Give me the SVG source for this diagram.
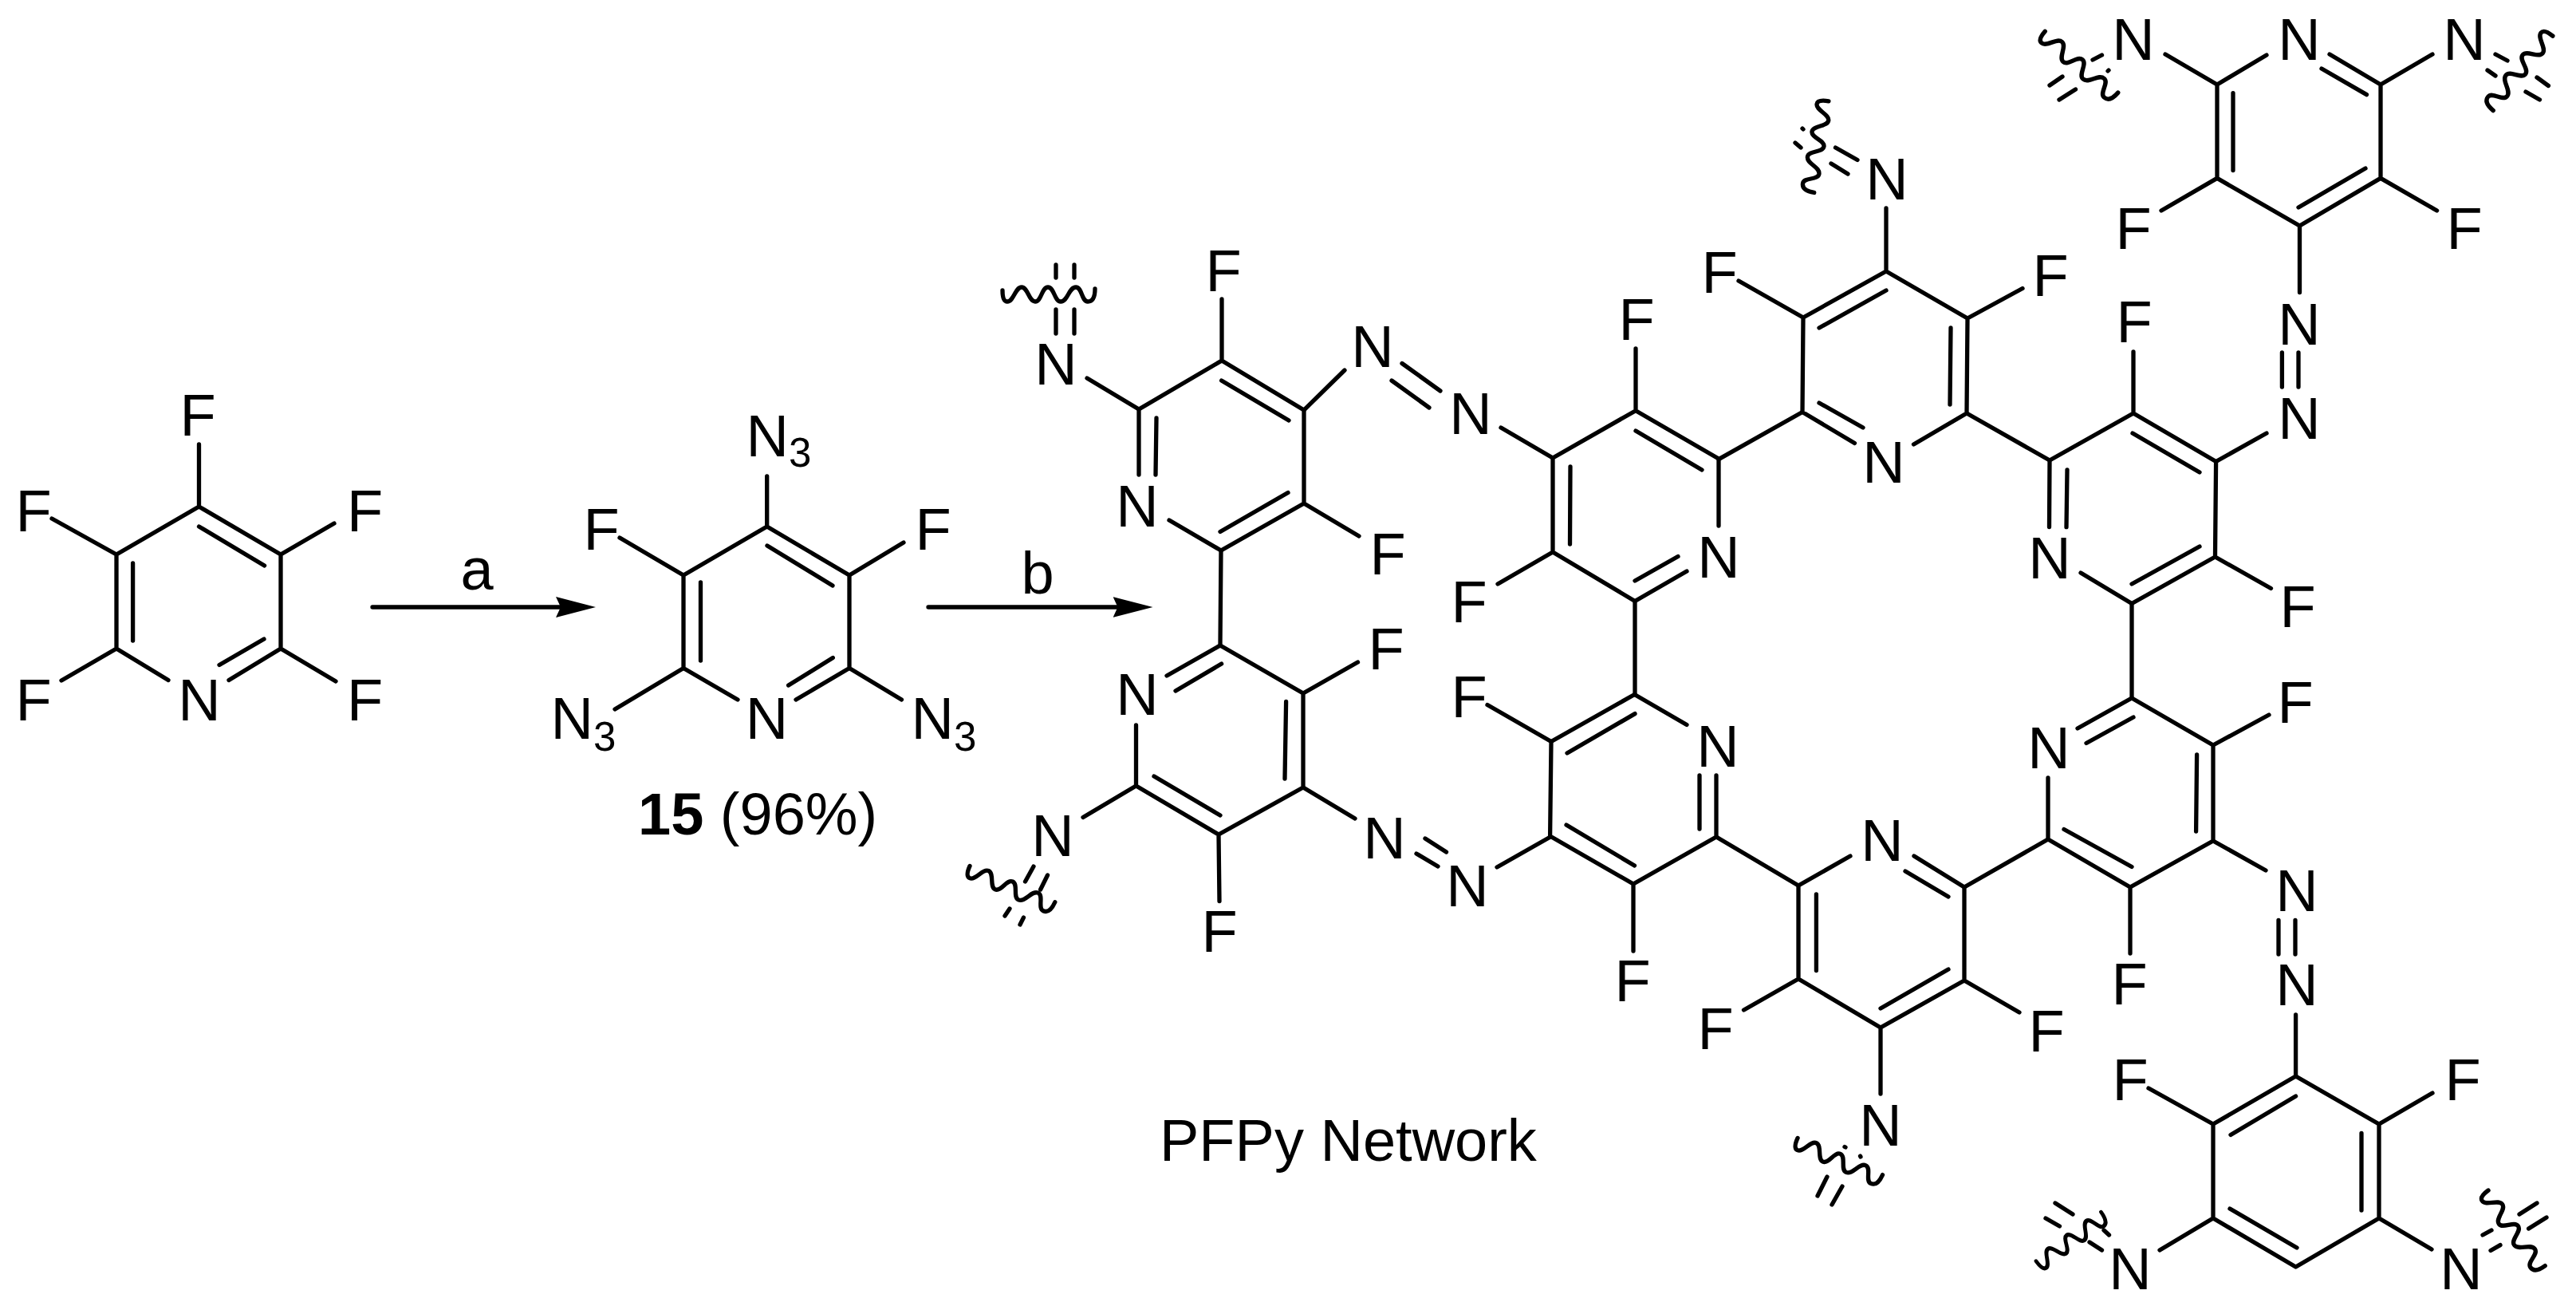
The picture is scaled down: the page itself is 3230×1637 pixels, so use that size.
<svg xmlns="http://www.w3.org/2000/svg" width="3230" height="1637" viewBox="0 0 3230 1637">
<style>
.b{fill:none;stroke:#000;stroke-width:5.3;stroke-linecap:round;stroke-linejoin:round}
.t{font-family:"Liberation Sans",Arial,sans-serif;font-size:74px;fill:#000;text-anchor:middle}
.s{font-family:"Liberation Sans",Arial,sans-serif;font-size:74px;fill:#000}
.u{font-size:51px}
.h{font-weight:bold}
</style>
<defs>
<path id="wave" class="b" d="M0,-5C0,5 2,9 6,9C14,9 16,-9 24,-9C32,-9 33,9 41,9C49,9 49,-9 57,-9C65,-9 65,9 73,9C82,9 83,-9 92,-9C100,-9 99,9 107,9C113,9 116,3 116,-7"/>
<marker id="head" markerUnits="userSpaceOnUse" markerWidth="50" markerHeight="26" viewBox="0 0 50 26" refX="6" refY="13" orient="auto"><path d="M0,0L50,13L0,26L6,13Z" fill="#000"/></marker>
</defs>
<rect width="3230" height="1637" fill="#fff"/>

<g id="reactant">
<path class="b" d="M249.5,557V635L146,695V813L211,852.5M249.5,635L352,695V813L287,852.5M249.5,660L331.6,709M166.6,706V803M275,833.5L331,801M146,695L65,650M352,695L419,656M146,813L77,853M352,813L421,854"/>
<text class="t" x="248" y="546">F</text><text class="t" x="42" y="665.5">F</text><text class="t" x="457.5" y="665.5">F</text>
<text class="t" x="42" y="903">F</text><text class="t" x="457.5" y="903">F</text><text class="t" x="250" y="903">N</text>
</g>

<g id="arrow-a"><path class="b" d="M467,761H703" marker-end="url(#head)"/><text class="t" x="598" y="738.5">a</text></g>

<g id="compound-15">
<path class="b" d="M961.7,597V660L857,721V837.5L925,877M961.7,660L1065,721V837.5L998,877M962,684L1044,734M878.5,730V828M988.6,859L1044.3,824.5M857,721L777,674M1065,721L1133,680M857,837.5L771,889M1065,837.5L1130.5,877"/>
<text class="t" x="754" y="689">F</text><text class="t" x="1170" y="689">F</text><text class="t" x="961.5" y="926">N</text>
<text class="s" x="935.5" y="572">N<tspan class="u" dy="13">3</tspan></text>
<text class="s" x="690.5" y="926">N<tspan class="u" dy="15">3</tspan></text>
<text class="s" x="1142.5" y="926">N<tspan class="u" dy="15">3</tspan></text>
<text class="s" x="800" y="1046"><tspan class="h">15</tspan> (96%)</text>
</g>

<g id="arrow-b"><path class="b" d="M1164,761H1401.5" marker-end="url(#head)"/><text class="t" x="1301" y="744">b</text></g>

<g id="ring-a">
<path class="b" d="M1532,375V452L1428,513V595M1532,452L1635,514V631L1531,690L1466,652M1450,524L1449,595M1531.6,477L1616,527M1530,666.5L1615,617.5M1635,631L1704,672"/>
<text class="t" x="1534" y="365">F</text><text class="t" x="1426" y="660">N</text><text class="t" x="1740" y="720">F</text>
</g>
<g id="ring-b">
<path class="b" d="M1424.5,909V985L1528,1046L1634,987V869L1530,809L1463,847M1531.6,832L1474,866M1612.6,879.5L1611,976M1447,973L1530,1022M1634,869L1702.5,830M1528,1046L1529,1129.5"/>
<text class="t" x="1426" y="896">N</text><text class="t" x="1738" y="839">F</text><text class="t" x="1529" y="1193">F</text>
</g>
<g id="ring-c">
<path class="b" d="M2051,437V514.7L1947,574V692L2050,753.5L2115,716M2051,514.7L2155,575V659M2051,540L2134,589M1969,585L1968.5,682M2050,728L2104,697.5M1947,692L1878,732"/>
<text class="t" x="2052" y="426">F</text><text class="t" x="2155" y="724">N</text><text class="t" x="1842" y="780">F</text>
</g>
<g id="ring-d">
<path class="b" d="M2365,261V340L2261,398L2260,516.5L2325.5,555.5M2365,340L2467,399L2466,518L2399.5,557M2365,364L2281,411M2446,411L2445,507M2281,505L2336,536M2261,398L2180,352M2467,399L2536,361.5"/>
<text class="t" x="2156" y="367">F</text><text class="t" x="2571" y="371">F</text><text class="t" x="2362" y="605">N</text>
</g>
<g id="ring-e">
<path class="b" d="M2842,69L2780,106V223.4L2883.5,283L2985,223.4V106L2921,68M2967.5,118.6L2911,86M2800,116.6V213.5M2966,211L2882,260M2780,106L2715,68M2985,106L3050,68M2780,223.4L2710,264M2985,223.4L3055.6,264"/>
<text class="t" x="2883" y="75">N</text><text class="t" x="2675" y="75">N</text><text class="t" x="3090" y="75">N</text>
<text class="t" x="2675" y="312">F</text><text class="t" x="3090" y="312">F</text>
</g>
<g id="ring-f">
<path class="b" d="M2675,441V518L2570,577L2569.5,660.6M2675,518L2778.6,578.5L2777.5,698L2673,756.5L2609,718M2674,543L2758,592M2592,589L2591,660.6M2673,732L2758,685M2777.5,698L2847.5,737.5"/>
<text class="t" x="2676" y="429">F</text><text class="t" x="2570" y="725">N</text><text class="t" x="2881" y="786">F</text>
</g>
<g id="ring-g">
<path class="b" d="M2568,975V1052L2671,1112L2775,1054V934L2673,875L2605,913M2616,931.5L2675,899M2754.6,946L2753.6,1042M2588,1039.5L2673,1086.5M2775,934L2845,896M2671,1112V1195"/>
<text class="t" x="2569" y="963">N</text><text class="t" x="2878" y="906">F</text><text class="t" x="2670" y="1259">F</text>
</g>
<g id="ring-h">
<path class="b" d="M2878.6,1349L2775,1409V1527L2878.6,1588L2983,1527V1409L2878.6,1349M2878.6,1374L2797,1422.5M2961,1420.5V1517M2796,1515L2880,1564M2775,1409L2694,1364M2983,1409L3050,1370M2775,1527L2708,1567M2983,1527L3049,1566"/>
<text class="t" x="2671" y="1379">F</text><text class="t" x="3088" y="1379">F</text><text class="t" x="2671" y="1616">N</text><text class="t" x="3086" y="1616">N</text>
</g>
<g id="ring-i">
<path class="b" d="M2320,1073L2255,1110V1227L2358,1288L2463,1229V1112L2400,1073M2389,1092L2443,1124M2277.4,1121V1216.5M2358,1264L2443,1215M2255,1227L2186.5,1266M2463,1229L2532,1269M2358,1288V1371"/>
<text class="t" x="2360" y="1079">N</text><text class="t" x="2151" y="1315">F</text><text class="t" x="2566" y="1318">F</text><text class="t" x="2358" y="1435.5">N</text>
</g>
<g id="ring-j">
<path class="b" d="M2115,908.5L2049.5,870.5L1945,929.5L1943.6,1048L2048,1108L2152,1049V972M2050,894.6L1965,944M1964,1034L2049.5,1085M2131,972V1039M1945,929.5L1865,883.5M2048,1108V1192"/>
<text class="t" x="2154" y="961">N</text><text class="t" x="1842" y="899">F</text><text class="t" x="2047" y="1255">F</text>
</g>

<g id="terminal-n">
<text class="t" x="1324" y="482">N</text><text class="t" x="1320" y="1073">N</text><text class="t" x="2366" y="250">N</text>
</g>
<g id="azo-1"><text class="t" x="1721" y="460">N</text><text class="t" x="1844" y="544">N</text><path class="b" d="M1758,455.5L1806,490M1745,477L1792,511"/></g>
<g id="azo-2"><text class="t" x="1736" y="1076">N</text><text class="t" x="1840" y="1136">N</text><path class="b" d="M1787,1051L1813.5,1068M1776,1070L1803,1086"/></g>
<g id="azo-3"><text class="t" x="2883" y="432">N</text><text class="t" x="2883" y="550">N</text><path class="b" d="M2861.4,442V485M2882,442V485"/></g>
<g id="azo-4"><text class="t" x="2880" y="1142">N</text><text class="t" x="2880" y="1260">N</text><path class="b" d="M2857,1153.5V1196M2878,1153.5V1196"/></g>

<g id="connectors">
<path class="b" d="M1531,690L1530,809M2050,753.5V870.5M2673,756.5V875M2155,575.6L2260,516.5M2466,518L2570,577M1428,513L1363,474M1424.5,985L1358,1024.5M1635,514L1686,464M1882,536L1947,574M1634,987L1699,1026M1877,1087L1944,1049M2883.5,283V366.5M2778.6,578.5L2842,543M2775,1054L2841,1091M2878.6,1272V1349M2152,1049L2255,1110M2463,1112L2568,1052"/>
</g>

<g id="cut-marks">
<path class="b" d="M1324,388V418M1347,388V418M1324,332V348M1347,332V348"/>
<use href="#wave" transform="translate(1257,369)"/>
<path class="b" d="M1296,1086L1285.5,1105M1313.5,1097L1304.6,1115M1266,1139L1260,1148M1283.5,1150L1279,1159"/>
<use href="#wave" transform="translate(1214,1090) rotate(24)"/>
<path class="b" d="M2301.5,185L2329,200.5M2296,205L2317,218M2260,161L2261,162M2251,179L2258,185"/>
<use href="#wave" transform="translate(2288,126) rotate(100)"/>
<path class="b" d="M2635.5,69L2624,75M2643,89L2644,88M2586,96L2570,107M2602.5,112L2582,125"/>
<use href="#wave" transform="translate(2561,43) rotate(41) scale(1.03,1)"/>
<path class="b" d="M3129,68L3144,76M3119,88L3129,95M3181,97L3195.4,107.5M3167,115L3184.5,125"/>
<use href="#wave" transform="translate(3197,42) rotate(129.6) scale(1.03,1)"/>
<path class="b" d="M2313,1437.5L2314,1438M2332.5,1449L2333,1450M2291,1475L2279,1499M2310,1487L2297,1510"/>
<use href="#wave" transform="translate(2252,1431) rotate(24.4)"/>
<path class="b" d="M2620,1557L2635.5,1567M2638,1542L2644.5,1548M2577,1508L2599,1522M2565,1527L2582.5,1537"/>
<use href="#wave" transform="translate(2556,1585) rotate(-35.9) scale(0.88,1)"/>
<path class="b" d="M3113,1548L3124,1542M3123,1567.5L3135,1560.6M3159,1522L3181,1508M3170.6,1540L3193,1526"/>
<use href="#wave" transform="translate(3116,1495) rotate(54) scale(1.02,1)"/>
</g>

<text id="caption" class="s" x="1454" y="1455">PFPy Network</text>
</svg>
